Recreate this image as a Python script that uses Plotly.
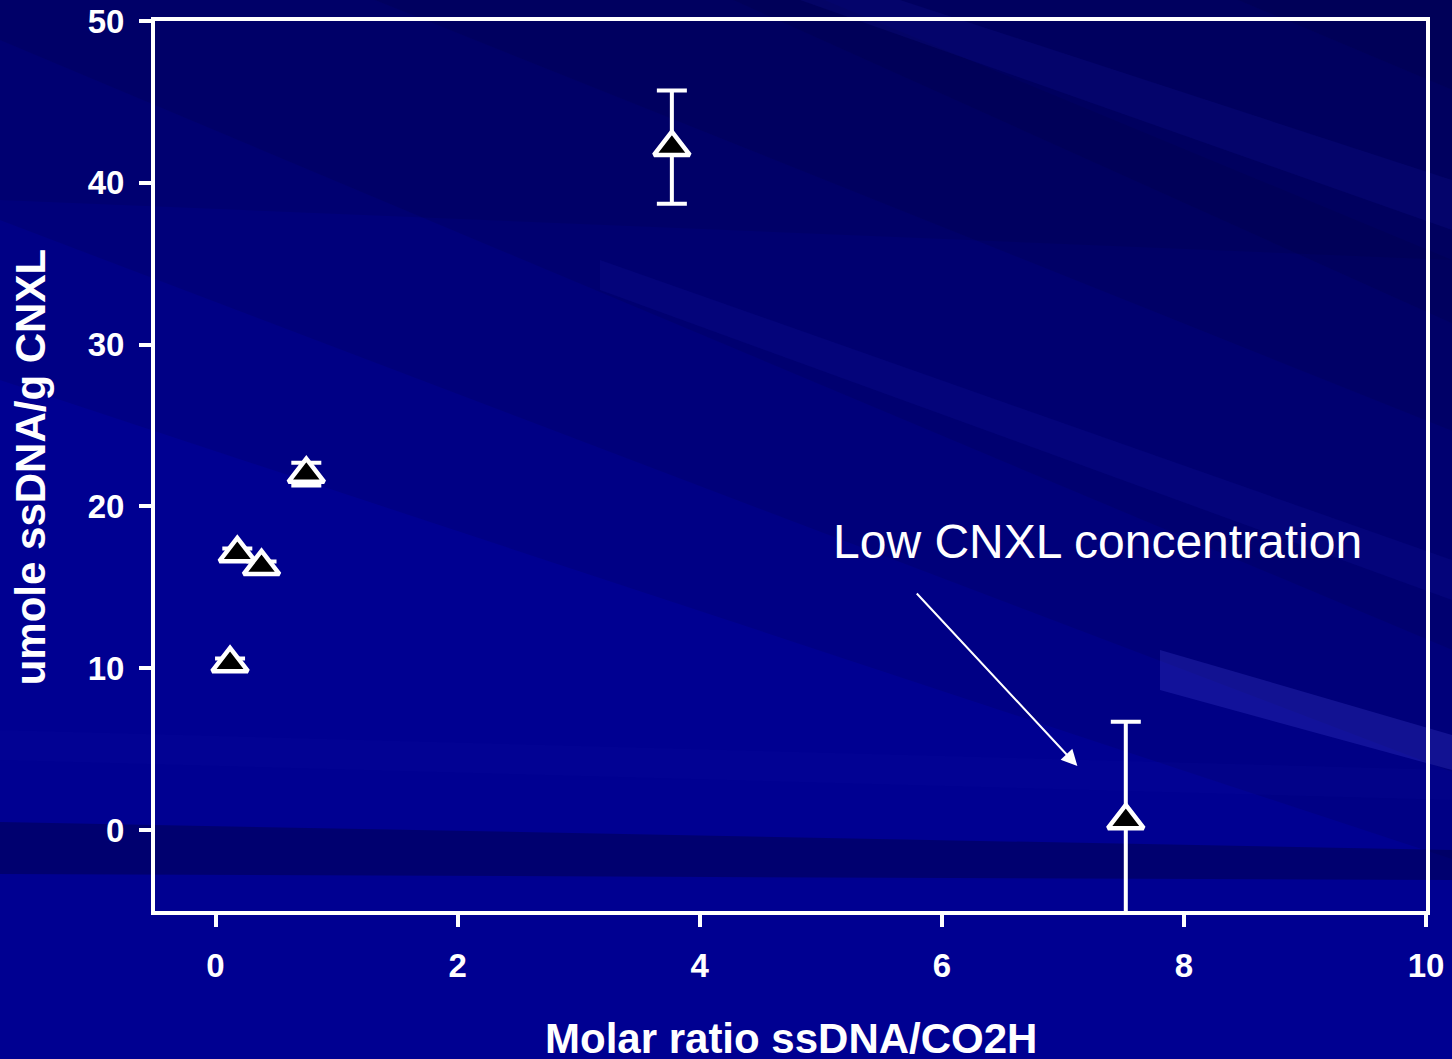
import plotly.graph_objects as go

# ---- data ----
x_ratio = [0.12, 0.18, 0.38, 0.75, 3.77, 7.52]
y_umole = [10.3, 17.1, 16.3, 22.0, 42.2, 0.6]
y_err = [0.3, 0.3, 0.3, 0.7, 3.5, 6.1]
x_ticks = [0, 2, 4, 6, 8, 10]
y_ticks = [0, 10, 20, 30, 40, 50]
x_title = "Molar ratio ssDNA/CO2H"
y_title = "umole ssDNA/g CNXL"
note_text = "Low CNXL concentration"

FONT = "Liberation Sans, Arial, sans-serif"
W, H = 1452, 1059
L, R, T, B = 155, 26, 21, 148
PW, PH = W - L - R, H - T - B


def px2paper(px, py):
    return (px - L) / PW, (H - B - py) / PH


def poly(points):
    pts = [px2paper(a, b) for a, b in points]
    return "M " + " L ".join(f"{a:.4f},{b:.4f}" for a, b in pts) + " Z"


# decorative background streaks (pixel polygons -> paper coords)
bg_bands = []
for y0, slope in [(-520, 0.42), (-330, 0.45), (-150, 0.40), (40, 0.42), (220, 0.38), (380, 0.33)]:
    bg_bands.append(([(0, -10), (1460, -10), (1460, y0 + slope * 1460), (0, y0)],
                     "rgba(0,0,40,0.11)"))
bg_bands += [
    ([(0, -10), (800, -10), (1452, 260), (0, 200)], "rgba(0,0,40,0.10)"),
    ([(0, 822), (1452, 850), (1452, 880), (0, 874)], "rgba(0,0,50,0.35)"),
    ([(1160, 650), (1452, 735), (1452, 770), (1160, 690)], "rgba(80,80,230,0.22)"),
    ([(600, 260), (1452, 560), (1452, 600), (600, 290)], "rgba(30,30,200,0.12)"),
    ([(900, 0), (1452, 180), (1452, 230), (800, 0)], "rgba(30,30,200,0.12)"),
    ([(0, 730), (1452, 770), (1452, 800), (0, 760)], "rgba(20,20,170,0.10)"),
]

shapes = [
    dict(type="path", path=poly(p), xref="paper", yref="paper",
         fillcolor=c, line=dict(width=0), layer="below")
    for p, c in bg_bands
]

fig = go.Figure()
fig.add_trace(go.Scatter(
    x=x_ratio, y=y_umole, mode="markers",
    marker=dict(symbol="triangle-up", size=31, color="black",
                line=dict(color="white", width=4.5)),
    error_y=dict(type="data", array=y_err, visible=True,
                 color="white", thickness=4, width=15),
    showlegend=False,
))

axis_common = dict(
    showline=True, linecolor="white", linewidth=4, mirror=True,
    ticks="outside", tickcolor="white", tickwidth=3.5, ticklen=12,
    showgrid=False, zeroline=False, automargin=False,
    tickfont=dict(family=FONT, size=33, color="white", weight="bold"),
)

fig.update_xaxes(range=[-0.5, 10], tickvals=x_ticks, ticklabelstandoff=10,
                 **axis_common)
fig.update_yaxes(range=[-5, 50], tickvals=y_ticks, ticklabelstandoff=8,
                 **axis_common)

fig.add_annotation(x=7.12, y=3.96, ax=-162, ay=-174, text="",
                   showarrow=True, arrowcolor="white", arrowwidth=2,
                   arrowhead=2, arrowsize=1.6)
fig.add_annotation(x=7.29, y=17.86, text=note_text, showarrow=False,
                   font=dict(family=FONT, size=48, color="white"),
                   xanchor="center", yanchor="middle")
fig.add_annotation(xref="paper", yref="paper", x=0.5, y=-0.143,
                   text=f"<b>{x_title}</b>", showarrow=False,
                   font=dict(family=FONT, size=42, color="white"),
                   xanchor="center", yanchor="middle")
fig.add_annotation(xref="paper", yref="paper", x=-0.098, y=0.499,
                   text=f"<b>{y_title}</b>", showarrow=False, textangle=-90,
                   font=dict(family=FONT, size=42, color="white"),
                   xanchor="center", yanchor="middle")

fig.update_layout(
    width=W, height=H,
    margin=dict(l=L, r=R, t=T, b=B),
    paper_bgcolor="rgb(0,0,145)",
    plot_bgcolor="rgba(0,0,0,0)",
    shapes=shapes,
)

fig.write_html("out.html")
